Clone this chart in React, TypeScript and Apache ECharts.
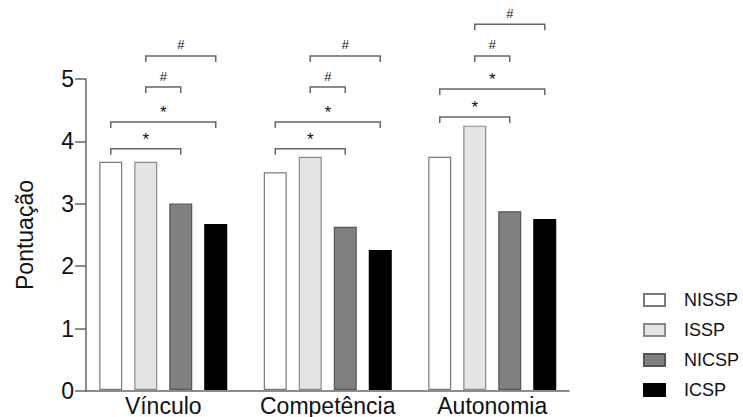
import React, { useEffect, useRef } from "react";
import * as echarts from "echarts";

const categories = ["Vínculo", "Competência", "Autonomia"];
const seriesNames = ["NISSP", "ISSP", "NICSP", "ICSP"];
const nisspValues = [3.67, 3.5, 3.75];
const isspValues = [3.67, 3.75, 4.25];
const nicspValues = [3.0, 2.625, 2.875];
const icspValues = [2.67, 2.25, 2.75];
const yTicks = [0, 1, 2, 3, 4, 5];

// significance brackets: group index, from-series index, to-series index, level, mark
const bracketGroup = [0, 0, 0, 0, 1, 1, 1, 1, 2, 2, 2, 2];
const bracketFrom = [0, 0, 1, 1, 0, 0, 1, 1, 0, 0, 1, 1];
const bracketTo = [2, 3, 2, 3, 2, 3, 2, 3, 2, 3, 2, 3];
const bracketLevel = [3.88, 4.31, 4.87, 5.37, 3.88, 4.31, 4.87, 5.37, 4.39, 4.84, 5.37, 5.88];
const bracketMark = ["*", "*", "#", "#", "*", "*", "#", "#", "*", "*", "#", "#"];

const FONT = "Liberation Sans, Arial, Helvetica, sans-serif";
const BAR_W = 23;
const BAR_GAP_PX = 12;

export default function App() {
  const ref = useRef<HTMLDivElement>(null);

  useEffect(() => {
    if (!ref.current) return;
    const chart = echarts.init(ref.current, null, { renderer: "svg" });

    const fills = ["#ffffff", "#e4e4e4", "#808080", "#000000"];
    const borders = ["#7a7a7a", "#8a8a8a", "#555555", "#000000"];
    const valueLists = [nisspValues, isspValues, nicspValues, icspValues];

    const barSeries = seriesNames.map((name, i) => ({
      name,
      type: "bar",
      xAxisIndex: 0,
      yAxisIndex: 0,
      data: valueLists[i],
      barWidth: BAR_W,
      barGap: `${(BAR_GAP_PX / BAR_W) * 100}%`,
      itemStyle: { color: fills[i], borderColor: borders[i], borderWidth: 1.2 },
      silent: true,
    }));

    const bracketData = bracketGroup.map((g, i) => [g, bracketFrom[i], bracketTo[i], bracketLevel[i], i]);

    const bracketSeries = {
      type: "custom",
      xAxisIndex: 0,
      yAxisIndex: 0,
      clip: false,
      silent: true,
      encode: { x: 0, y: 3 },
      data: bracketData,
      z: 10,
      renderItem: (params: any, api: any) => {
        const g = api.value(0);
        const a = api.value(1);
        const b = api.value(2);
        const lvl = api.value(3);
        const idx = api.value(4);
        const p = api.coord([g, lvl]);
        const pitch = BAR_W + BAR_GAP_PX;
        const x1 = p[0] + (a - 1.5) * pitch;
        const x2 = p[0] + (b - 1.5) * pitch;
        const y = p[1];
        const leg = 6;
        const mark = bracketMark[idx];
        const isStar = mark === "*";
        return {
          type: "group",
          children: [
            {
              type: "polyline",
              shape: { points: [[x1, y + leg], [x1, y], [x2, y], [x2, y + leg]] },
              style: { stroke: "#666", lineWidth: 1.5, fill: "none" },
            },
            {
              type: "text",
              style: {
                text: mark,
                x: (x1 + x2) / 2,
                y: isStar ? y - 9 : y - 11,
                align: "center",
                verticalAlign: "middle",
                fontSize: isStar ? 17 : 13,
                fontFamily: FONT,
                fill: "#111",
              },
            },
          ],
        };
      },
    };

    chart.setOption({
      animation: false,
      backgroundColor: "#ffffff",
      textStyle: { fontFamily: FONT },
      grid: [
        { left: 81, top: 79, width: 493.5, bottom: 26, containLabel: false },
        { left: 86, top: 79, width: 483, bottom: 26, containLabel: false },
      ],
      legend: {
        data: seriesNames,
        orient: "vertical",
        left: 643,
        top: 291,
        padding: 0,
        icon: "rect",
        itemWidth: 21,
        itemHeight: 12,
        itemGap: 12,
        selectedMode: false,
        textStyle: { fontSize: 18, color: "#111", fontFamily: FONT, padding: [0, 0, 0, 14] },
      },
      xAxis: [
        {
          type: "category",
          gridIndex: 0,
          data: categories,
          axisTick: { show: false },
          axisLine: { show: false },
          axisLabel: { fontSize: 23, color: "#111", margin: 4, interval: 0, fontFamily: FONT },
        },
        {
          type: "category",
          gridIndex: 1,
          data: categories,
          axisTick: { show: false },
          axisLabel: { show: false },
          axisLine: { show: true, lineStyle: { color: "#666", width: 1.5 } },
        },
      ],
      yAxis: [
        {
          type: "value",
          gridIndex: 0,
          min: yTicks[0],
          max: yTicks[yTicks.length - 1],
          interval: 1,
          show: false,
        },
        {
          type: "value",
          gridIndex: 1,
          min: yTicks[0],
          max: yTicks[yTicks.length - 1],
          interval: 1,
          name: "Pontuação",
          nameLocation: "middle",
          nameGap: 50,
          nameTextStyle: { fontSize: 23, color: "#111", fontFamily: FONT },
          splitLine: { show: false },
          axisLine: { show: true, lineStyle: { color: "#666", width: 1.5 } },
          axisTick: { show: true, length: 11, lineStyle: { color: "#666", width: 1.5 } },
          axisLabel: { fontSize: 23, color: "#111", margin: 12, fontFamily: FONT },
        },
      ],
      series: [...barSeries, bracketSeries],
    });

    return () => chart.dispose();
  }, []);

  return (
    <div
      ref={ref}
      style={{ position: "fixed", left: 0, top: 0, width: 743, height: 417, background: "#fff" }}
    />
  );
}
